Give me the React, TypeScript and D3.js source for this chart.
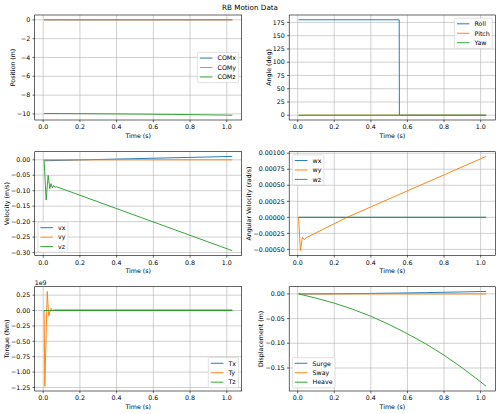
import React, { useEffect, useRef } from 'react';
import * as d3 from 'd3';

// matplotlib tab10 colours
const BLUE = '#1f77b4';
const ORANGE = '#ff7f0e';
const GREEN = '#2ca02c';

// ---- Position (m)
const posTime = [0.005, 0.1, 0.2, 0.3, 0.4, 0.5, 0.6, 0.7, 0.8, 0.9, 1.0, 1.03];
const comX = [0, 0, 0.0003, 0.0006, 0.001, 0.0015, 0.002, 0.0026, 0.0033, 0.004, 0.0048, 0.005];
const comY = [0, 0, 0, 0, 0, 0, 0, 0, 0, 0, 0, 0];
const comZ = [-9.95, -9.959, -9.969, -9.981, -9.995, -10.012, -10.031, -10.051, -10.074, -10.1, -10.128, -10.137];

// ---- Angle (deg)
const angleTime = [0.005, 0.555, 0.556, 1.03];
const roll = [180, 180, 0, 0];
const pitch = [0, 0, 0, 0];
const yaw = [0, 0, 0, 0];

// ---- Velocity (m/s)
const vxTime = [0.005, 0.01, 0.03, 1.03];
const vx = [0, -0.003, -0.0027, 0.011];
const vyTime = [0.005, 1.03];
const vy = [0, 0];
const vzTime = [0.005, 0.016, 0.027, 0.036, 0.043, 0.05, 0.057, 0.064, 0.072, 1.03];
const vz = [0, -0.13, -0.05, -0.093, -0.077, -0.091, -0.083, -0.089, -0.087, -0.294];

// ---- Angular velocity (rad/s)
const angVelTime = [0.005, 0.015, 0.026, 0.036, 0.045, 0.27, 1.03];
const wx = [0, 0, 0, 0, 0, 0, 0];
const wy = [0, -0.00052, -0.00031, -0.00035, -0.00032, 0, 0.00095];
const wz = [0, 0, 0, 0, 0, 0, 0];

// ---- Torque (x1e9 Nm)
const torqueTime = [0.005, 0.009, 0.022, 0.03, 0.043, 0.05, 0.06, 1.03];
const tx = [0, 0, 0, 0, 0, 0, 0, 0];
const ty = [0, -1.23, 0.31, -0.09, 0.035, 0, 0.012, 0.012];
const tz = [0, 0, 0, 0, 0, 0, 0, 0];

// ---- Displacement (m)
const dispTime = posTime;
const surge = [0, 0, 0.0003, 0.0006, 0.001, 0.0015, 0.002, 0.0026, 0.0033, 0.004, 0.0048, 0.005];
const sway = [0, 0, 0, 0, 0, 0, 0, 0, 0, 0, 0, 0];
const heave = [0, -0.0085, -0.0187, -0.031, -0.0453, -0.062, -0.0807, -0.101, -0.124, -0.15, -0.178, -0.187];

// ticks
const timeTicks = [0, 0.2, 0.4, 0.6, 0.8, 1.0];
const posTicks = [0, -2, -4, -6, -8, -10];
const angleTicks = [0, 25, 50, 75, 100, 125, 150, 175];
const velTicks = [0, -0.05, -0.1, -0.15, -0.2, -0.25, -0.3];
const angVelTicks = [0.001, 0.00075, 0.0005, 0.00025, 0, -0.00025, -0.0005];
const torqueTicks = [0.25, 0, -0.25, -0.5, -0.75, -1.0, -1.25];
const dispTicks = [0, -0.05, -0.1, -0.15];

const FS = 6.3;
const FONT = '"DejaVu Sans", sans-serif';
const COLS = [[34.7, 241.7], [289.2, 495.5]];
const ROWS = [[15, 120], [151.7, 255.4], [286.7, 391]];

type Series = { label: string; t: number[]; v: number[]; color: string };
type Panel = {
  col: number; row: number; ylabel: string; yticks: number[]; yfmt: string;
  legend: string; offset?: string; series: Series[];
};

const panels: Panel[] = [
  { col: 0, row: 0, ylabel: 'Position (m)', yticks: posTicks, yfmt: 'd', legend: 'center right', series: [
    { label: 'COMx', t: posTime, v: comX, color: BLUE },
    { label: 'COMy', t: posTime, v: comY, color: ORANGE },
    { label: 'COMz', t: posTime, v: comZ, color: GREEN },
  ] },
  { col: 1, row: 0, ylabel: 'Angle (deg)', yticks: angleTicks, yfmt: 'd', legend: 'upper right', series: [
    { label: 'Roll', t: angleTime, v: roll, color: BLUE },
    { label: 'Pitch', t: angleTime, v: pitch, color: ORANGE },
    { label: 'Yaw', t: angleTime, v: yaw, color: GREEN },
  ] },
  { col: 0, row: 1, ylabel: 'Velocity (m/s)', yticks: velTicks, yfmt: '.2f', legend: 'lower left', series: [
    { label: 'vx', t: vxTime, v: vx, color: BLUE },
    { label: 'vy', t: vyTime, v: vy, color: ORANGE },
    { label: 'vz', t: vzTime, v: vz, color: GREEN },
  ] },
  { col: 1, row: 1, ylabel: 'Angular Velocity (rad/s)', yticks: angVelTicks, yfmt: '.5f', legend: 'upper left', series: [
    { label: 'wx', t: angVelTime, v: wx, color: BLUE },
    { label: 'wy', t: angVelTime, v: wy, color: ORANGE },
    { label: 'wz', t: angVelTime, v: wz, color: GREEN },
  ] },
  { col: 0, row: 2, ylabel: 'Torque (Nm)', yticks: torqueTicks, yfmt: '.2f', legend: 'lower right', offset: '1e9', series: [
    { label: 'Tx', t: torqueTime, v: tx, color: BLUE },
    { label: 'Ty', t: torqueTime, v: ty, color: ORANGE },
    { label: 'Tz', t: torqueTime, v: tz, color: GREEN },
  ] },
  { col: 1, row: 2, ylabel: 'Displacement (m)', yticks: dispTicks, yfmt: '.2f', legend: 'lower left', series: [
    { label: 'Surge', t: dispTime, v: surge, color: BLUE },
    { label: 'Sway', t: dispTime, v: sway, color: ORANGE },
    { label: 'Heave', t: dispTime, v: heave, color: GREEN },
  ] },
];

const padDomain = (ext: [number, number]) => {
  const m = (ext[1] - ext[0]) * 0.05;
  return [ext[0] - m, ext[1] + m];
};

export default function App() {
  const svgRef = useRef<SVGSVGElement>(null);

  useEffect(() => {
    if (!svgRef.current) return;
    const svg = d3.select(svgRef.current);
    svg.selectAll('*').remove();

    const ctx = document.createElement('canvas').getContext('2d')!;
    ctx.font = `${FS}px ${FONT}`;
    const measure = (s: string) => ctx.measureText(s).width;

    svg.append('rect').attr('width', 500).attr('height', 414).attr('fill', '#fff');

    svg.append('text')
      .attr('x', 250).attr('y', 9.5)
      .attr('text-anchor', 'middle')
      .attr('font-size', 7.2)
      .text('RB Motion Data');

    const defs = svg.append('defs');

    panels.forEach((p, i) => {
      const [x0, x1] = COLS[p.col];
      const [y0, y1] = ROWS[p.row];
      const g = svg.append('g');

      const allT = p.series.flatMap(s => s.t);
      const allV = p.series.flatMap(s => s.v);
      const x = d3.scaleLinear().domain(padDomain(d3.extent(allT) as [number, number])).range([x0, x1]);
      const y = d3.scaleLinear().domain(padDomain(d3.extent(allV) as [number, number])).range([y1, y0]);
      const fmtY = d3.format(p.yfmt);
      const fmtX = d3.format('.1f');

      // grid
      g.selectAll('.gx').data(timeTicks).join('line')
        .attr('x1', d => x(d)).attr('x2', d => x(d)).attr('y1', y0).attr('y2', y1)
        .attr('stroke', '#b0b0b0').attr('stroke-width', 0.6);
      g.selectAll('.gy').data(p.yticks).join('line')
        .attr('x1', x0).attr('x2', x1).attr('y1', d => y(d)).attr('y2', d => y(d))
        .attr('stroke', '#b0b0b0').attr('stroke-width', 0.6);

      // lines
      defs.append('clipPath').attr('id', `clip${i}`)
        .append('rect').attr('x', x0).attr('y', y0).attr('width', x1 - x0).attr('height', y1 - y0);
      const line = d3.line<[number, number]>().x(d => x(d[0])).y(d => y(d[1]));
      const lg = g.append('g').attr('clip-path', `url(#clip${i})`);
      p.series.forEach(s => {
        lg.append('path')
          .attr('d', line(d3.zip(s.t, s.v) as [number, number][]))
          .attr('fill', 'none')
          .attr('stroke', s.color)
          .attr('stroke-width', 0.95)
          .attr('stroke-linejoin', 'round');
      });

      // frame
      g.append('rect')
        .attr('x', x0).attr('y', y0).attr('width', x1 - x0).attr('height', y1 - y0)
        .attr('fill', 'none').attr('stroke', '#000').attr('stroke-width', 0.6);

      // x ticks
      g.selectAll('.tx').data(timeTicks).join('line')
        .attr('x1', d => x(d)).attr('x2', d => x(d)).attr('y1', y1).attr('y2', y1 + 2.2)
        .attr('stroke', '#000').attr('stroke-width', 0.6);
      g.selectAll('.txl').data(timeTicks).join('text')
        .attr('x', d => x(d)).attr('y', y1 + 9.4)
        .attr('text-anchor', 'middle').attr('font-size', FS)
        .text(d => fmtX(d));
      g.append('text')
        .attr('x', (x0 + x1) / 2).attr('y', y1 + 17.6)
        .attr('text-anchor', 'middle').attr('font-size', FS)
        .text('Time (s)');

      // y ticks
      g.selectAll('.ty').data(p.yticks).join('line')
        .attr('x1', x0 - 2.2).attr('x2', x0).attr('y1', d => y(d)).attr('y2', d => y(d))
        .attr('stroke', '#000').attr('stroke-width', 0.6);
      g.selectAll('.tyl').data(p.yticks).join('text')
        .attr('x', x0 - 4.4).attr('y', d => y(d) + 2.2)
        .attr('text-anchor', 'end').attr('font-size', FS)
        .text(d => fmtY(d));
      const maxW = d3.max(p.yticks, d => measure(fmtY(d))) || 0;
      const lx = x0 - 6.6 - maxW;
      g.append('text')
        .attr('transform', `translate(${lx},${(y0 + y1) / 2}) rotate(-90)`)
        .attr('text-anchor', 'middle').attr('font-size', FS)
        .text(p.ylabel);

      if (p.offset) {
        g.append('text')
          .attr('x', x0).attr('y', y0 - 1.8)
          .attr('font-size', FS)
          .text(p.offset);
      }

      // legend
      const f = FS;
      const n = p.series.length;
      const textW = d3.max(p.series, s => measure(s.label)) || 0;
      const lw = 0.8 * f + 2 * f + 0.8 * f + textW;
      const lh = 0.8 * f + n * f + (n - 1) * 0.5 * f;
      const inset = 0.5 * f;
      let bx = x1 - inset - lw;
      let by = y0 + inset;
      if (p.legend.includes('left')) bx = x0 + inset;
      if (p.legend.startsWith('lower')) by = y1 - inset - lh;
      if (p.legend.startsWith('center')) by = (y0 + y1) / 2 - lh / 2;
      const leg = g.append('g');
      leg.append('rect')
        .attr('x', bx).attr('y', by).attr('width', lw).attr('height', lh)
        .attr('rx', 0.2 * f)
        .attr('fill', '#fff').attr('fill-opacity', 0.8)
        .attr('stroke', '#cccccc').attr('stroke-width', 0.6);
      p.series.forEach((s, k) => {
        const cy = by + 0.4 * f + f / 2 + k * 1.5 * f;
        leg.append('line')
          .attr('x1', bx + 0.4 * f).attr('x2', bx + 2.4 * f)
          .attr('y1', cy).attr('y2', cy)
          .attr('stroke', s.color).attr('stroke-width', 0.95);
        leg.append('text')
          .attr('x', bx + 3.2 * f).attr('y', cy + 0.36 * f)
          .attr('font-size', f)
          .text(s.label);
      });
    });
  }, []);

  return (
    <div>
      <style>{`body{margin:0}`}</style>
      <svg
        ref={svgRef}
        width={500}
        height={414}
        style={{ display: 'block', fontFamily: FONT }}
      />
    </div>
  );
}
